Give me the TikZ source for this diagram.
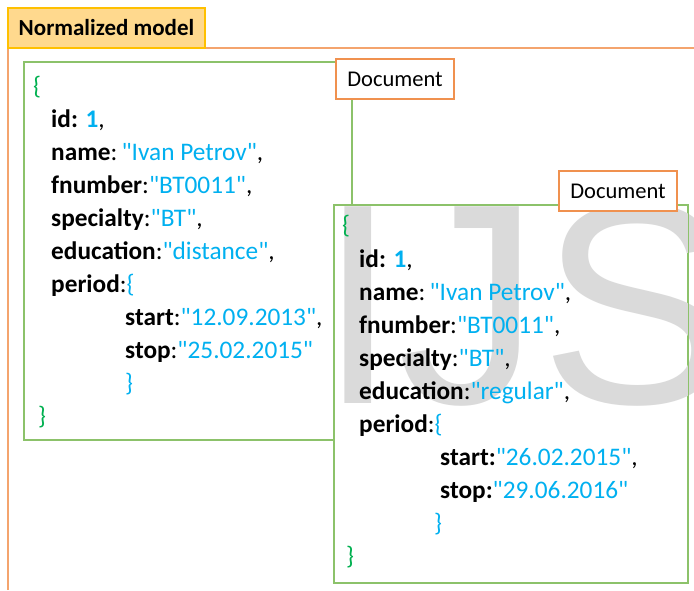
\documentclass[tikz,border=0pt]{standalone}
\usepackage{fontspec}
\newfontfamily\carlitofont{Carlito}
\newfontfamily\wmfont{Liberation Sans}
\definecolor{frameor}{HTML}{F4A46E}
\definecolor{docor}{HTML}{F0914F}
\definecolor{tabfill}{HTML}{FFD98E}
\definecolor{tabline}{HTML}{FFC000}
\definecolor{boxgreen}{HTML}{8CC26A}
\definecolor{jblue}{HTML}{00B0F0}
\definecolor{jgreen}{HTML}{00B050}
\definecolor{wmgray}{HTML}{DADADA}
\newcommand\vv[1]{\textcolor{jblue}{#1}}
\newcommand\gb[1]{\textcolor{jgreen}{#1}}
\begin{document}
\begin{tikzpicture}[x=1pt,y=-1pt,
  txt/.style={anchor=base west, inner sep=0pt, font=\carlitofont\fontsize{25.3}{25.3}\selectfont},
  docbox/.style={draw=docor, line width=1.3pt, fill=white, minimum width=118pt, minimum height=40pt, inner sep=0pt, font=\carlitofont\fontsize{22.5}{22.5}\selectfont},
  jsonbox/.style={draw=boxgreen, line width=1.3pt, minimum height=378pt, inner sep=0pt}]
\useasboundingbox (0,0) rectangle (694,590);
\fill[white] (0,0) rectangle (694,590);
% outer frame
\coordinate (fbl) at (8,590);
\coordinate (ftl) at (8,48);
\coordinate (ftr) at (694,48);
\draw[frameor, line width=1.3pt] (fbl) -- (ftl) -- (ftr);
\node[draw=tabline, fill=tabfill, line width=1.3pt, minimum width=197pt, minimum height=40pt, inner sep=0pt, font=\carlitofont\bfseries\fontsize{23}{23}\selectfont] (tab) at (106.5,28) {Normalized model};
% boxes
\node[jsonbox, fill=white, minimum width=328pt] (box1) at (188,251) {};
\node[jsonbox, fill=white, minimum width=354pt] (box2) at (511,394) {};
% watermark
\node[anchor=base west, inner sep=0pt, text=wmgray, font=\wmfont\fontsize{286}{286}\selectfont] (wm) at (318,403) {IJS};
\draw[jsonbox] (box2.north west) rectangle (box2.south east);
% box 1 text
\node[txt] (a0) at (33,94) {\gb{\{}};
\node[txt] (a1) at (51,127) {\textbf{id: \vv{1}},};
\node[txt] (a2) at (51,160) {\textbf{name}:\,\vv{"Ivan Petrov"},};
\node[txt] (a3) at (51,193) {\textbf{fnumber}:\vv{"BT0011"},};
\node[txt] (a4) at (51,226) {\textbf{specialty}:\vv{"BT"},};
\node[txt] (a5) at (51,259) {\textbf{education}:\vv{"distance"},};
\node[txt] (a6) at (51,292) {\textbf{period}:\vv{\{}};
\node[txt] (a7) at (125,325) {\textbf{start}:\vv{"12.09.2013"},};
\node[txt] (a8) at (125,358) {\textbf{stop}:\vv{"25.02.2015"}};
\node[txt] (a9) at (125,391) {\vv{\}}};
\node[txt] (a10) at (38,424) {\gb{\}}};
% box 2 text
\node[txt] (b0) at (342,233) {\gb{\{}};
\node[txt] (b1) at (359,267) {\textbf{id: \vv{1}},};
\node[txt] (b2) at (359,300) {\textbf{name}:\,\vv{"Ivan Petrov"},};
\node[txt] (b3) at (359,333) {\textbf{fnumber}:\vv{"BT0011"},};
\node[txt] (b4) at (359,366) {\textbf{specialty}:\vv{"BT"},};
\node[txt] (b5) at (359,399) {\textbf{education}:\vv{"regular"},};
\node[txt] (b6) at (359,432) {\textbf{period}:\vv{\{}};
\node[txt] (b7) at (440,465) {\textbf{start:}\vv{"26.02.2015"},};
\node[txt] (b8) at (440,498) {\textbf{stop:}\vv{"29.06.2016"}};
\node[txt] (b9) at (434,531) {\vv{\}}};
\node[txt] (b10) at (346,564) {\gb{\}}};
% labels
\node[docbox] (doc1) at (395,79) {Document};
\node[docbox] (doc2) at (618,191) {Document};
\end{tikzpicture}
\end{document}
